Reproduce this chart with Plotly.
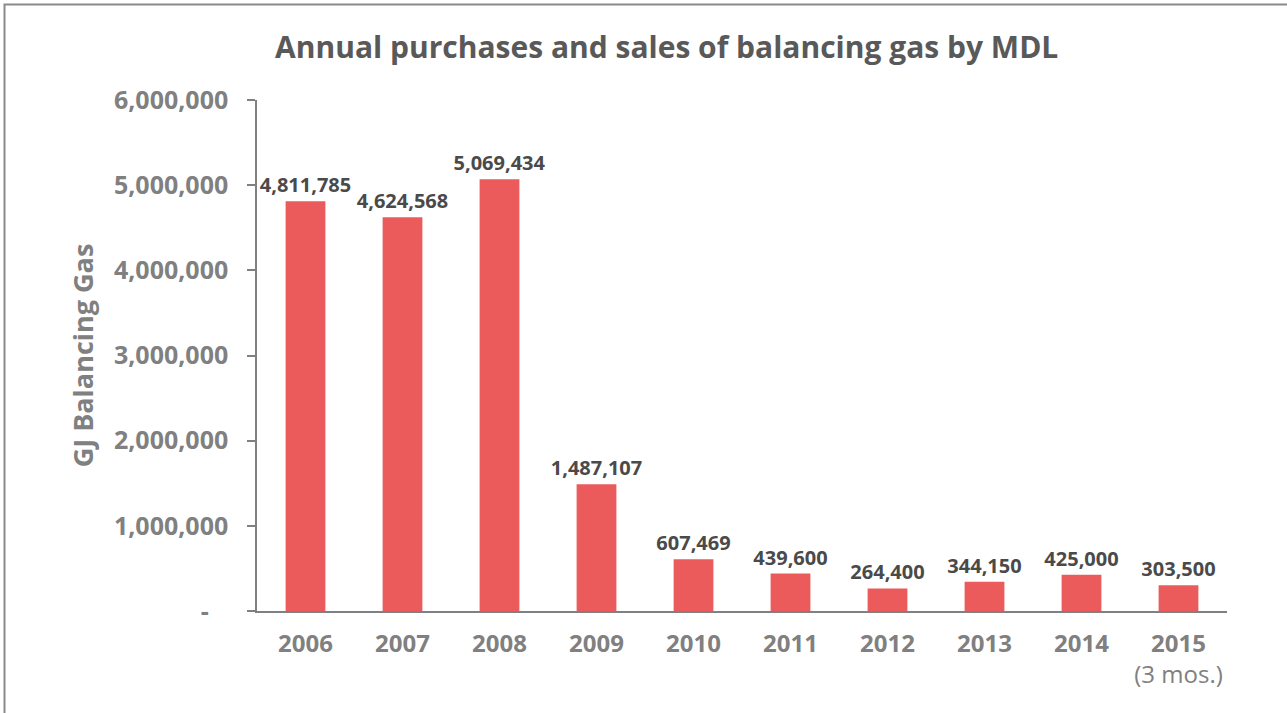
import plotly.graph_objects as go

# Chart data
years = ["2006", "2007", "2008", "2009", "2010", "2011", "2012", "2013", "2014", "2015"]
year_notes = ["", "", "", "", "", "", "", "", "", "(3 mos.)"]
volumes_gj = [4811785, 4624568, 5069434, 1487107, 607469, 439600, 264400, 344150, 425000, 303500]

y_tickvals = [0, 1000000, 2000000, 3000000, 4000000, 5000000, 6000000]
y_ticktext = ["-\u00a0\u00a0\u00a0", "1,000,000", "2,000,000", "3,000,000", "4,000,000", "5,000,000", "6,000,000"]

FONT = "Open Sans"
BAR_COLOR = "#EB5B5B"
AXIS_GRAY = "#808080"

x_labels = []
for y, note in zip(years, year_notes):
    lbl = f"<b>{y}</b>"
    if note:
        lbl += f"<br>{note}"
    x_labels.append(lbl)

fig = go.Figure()
fig.add_trace(go.Bar(
    x=x_labels,
    y=volumes_gj,
    marker=dict(color=BAR_COLOR, line=dict(width=0)),
    text=[f"{v:,}" for v in volumes_gj],
    textposition="outside",
    constraintext="none",
    textfont=dict(family=FONT, size=20, color="#4a4a4a", weight="bold"),
    cliponaxis=False,
    hoverinfo="skip",
))

fig.update_layout(
    width=1287, height=713,
    margin=dict(l=257, r=60, t=100, b=102),
    paper_bgcolor="white",
    plot_bgcolor="white",
    showlegend=False,
    bargap=0.59,
    title=dict(
        text="<b>Annual purchases and sales of balancing gas by MDL</b>",
        x=0.518, xref="container", xanchor="center",
        y=1 - 47 / 713, yref="container", yanchor="middle",
        font=dict(family=FONT, size=30, color="#595959"),
    ),
    font=dict(family=FONT, color=AXIS_GRAY),
)

fig.update_xaxes(
    showline=True, linecolor=AXIS_GRAY, linewidth=2,
    ticks="", showgrid=False,
    tickfont=dict(family=FONT, size=24, color=AXIS_GRAY),
    ticklabelstandoff=10,
)

fig.update_yaxes(
    range=[0, 6000000],
    tickvals=y_tickvals, ticktext=y_ticktext,
    showline=True, linecolor=AXIS_GRAY, linewidth=1.5,
    ticks="outside", ticklen=8, tickcolor=AXIS_GRAY, tickwidth=1.5,
    showgrid=False, zeroline=False,
    tickfont=dict(family=FONT, size=25, color=AXIS_GRAY, weight="bold"),
    ticklabelstandoff=14,
    title=dict(text="<b>GJ Balancing Gas</b>", font=dict(family=FONT, size=27, color=AXIS_GRAY), standoff=12),
)

# chart border (left and top visible in the frame)
fig.add_shape(
    type="rect", xref="paper", yref="paper",
    x0=(4.5 - 257) / 970, x1=1.2, y0=-0.5, y1=(611 - 4.5) / 511,
    line=dict(color="#8a8a8a", width=2), fillcolor="rgba(0,0,0,0)", layer="below",
)

fig.write_html(
    "out.html",
    config={"displayModeBar": False},
    post_script="document.body.style.margin='0';",
)
